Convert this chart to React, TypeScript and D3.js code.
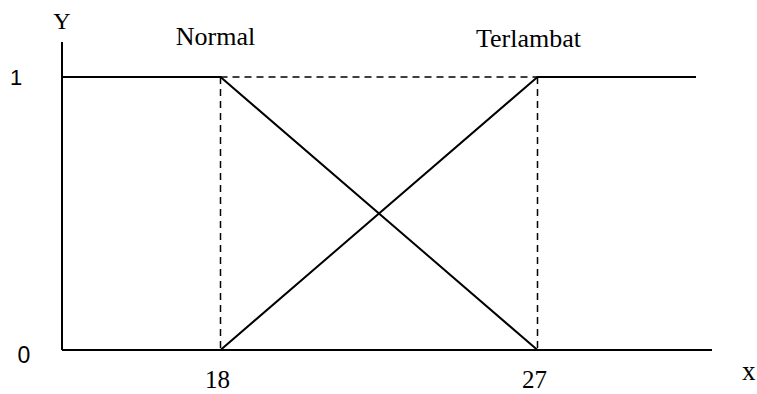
import React from "react";
import * as d3 from "d3";

const categories = ["Normal", "Terlambat"];
const normalX = [13.5, 18, 27];
const normalY = [1, 1, 0];
const terlambatX = [18, 27, 31.5];
const terlambatY = [0, 1, 1];
const xTicks = [18, 27];
const yTicks = [0, 1];
const xDomain = [13.5, 31.5];
const yDomain = [0, 1];

const W = 757;
const H = 394;

export default function App() {
  const x = d3.scaleLinear().domain(xDomain).range([62, 696]);
  const y = d3.scaleLinear().domain(yDomain).range([350, 77]);
  const line = d3
    .line<[number, number]>()
    .x((d) => x(d[0]))
    .y((d) => y(d[1]));
  const normalPts = normalX.map((v, i) => [v, normalY[i]] as [number, number]);
  const terlPts = terlambatX.map((v, i) => [v, terlambatY[i]] as [number, number]);
  const serif = "'Liberation Serif', 'Times New Roman', serif";
  const sans = "'Liberation Sans', Arial, sans-serif";
  const dash = "7,5";
  return (
    <svg
      width={W}
      height={H}
      style={{ position: "absolute", left: 0, top: 0, background: "#fff" }}
    >
      <rect width={W} height={H} fill="#fff" />
      {/* axes */}
      <line x1={x(xDomain[0])} x2={x(xDomain[0])} y1={42} y2={y(0)} stroke="#000" strokeWidth={2} />
      <line x1={x(xDomain[0])} x2={712} y1={y(0)} y2={y(0)} stroke="#000" strokeWidth={2.2} />
      {/* dashed guides */}
      <line x1={x(18)} x2={x(27)} y1={y(1)} y2={y(1)} stroke="#000" strokeWidth={1.5} strokeDasharray={dash} />
      {xTicks.map((t) => (
        <line key={t} x1={x(t)} x2={x(t)} y1={y(1)} y2={y(0)} stroke="#000" strokeWidth={1.5} strokeDasharray={dash} />
      ))}
      {/* membership lines */}
      <path d={line(normalPts) || ""} fill="none" stroke="#000" strokeWidth={2} />
      <path d={line(terlPts) || ""} fill="none" stroke="#000" strokeWidth={2} />
      {/* y tick labels */}
      <text x={16} y={y(1) + 8} fontFamily={sans} fontSize={22} textAnchor="middle">{yTicks[1]}</text>
      <text x={24} y={y(0) + 13} fontFamily={sans} fontSize={23} textAnchor="middle">{yTicks[0]}</text>
      {/* x tick labels */}
      {xTicks.map((t) => (
        <text key={t} x={x(t) - 3} y={388} fontFamily={serif} fontSize={25} textAnchor="middle">{t}</text>
      ))}
      {/* axis titles */}
      <text x={62} y={29} fontFamily={serif} fontSize={24} textAnchor="middle">Y</text>
      <text x={742} y={380} fontFamily={serif} fontSize={27}>x</text>
      {/* category labels */}
      <text x={x(18) - 5} y={45} fontFamily={serif} fontSize={26} textAnchor="middle">{categories[0]}</text>
      <text x={x(27) - 9} y={47} fontFamily={serif} fontSize={26} textAnchor="middle">{categories[1]}</text>
    </svg>
  );
}
